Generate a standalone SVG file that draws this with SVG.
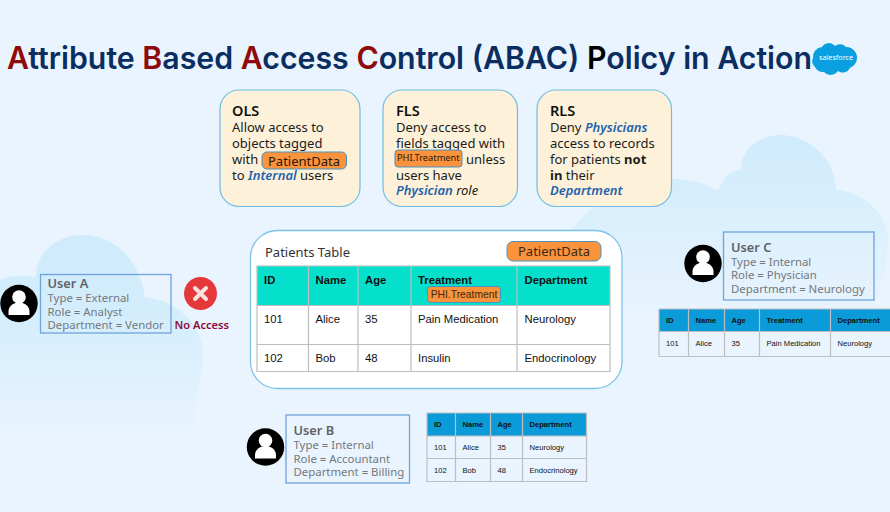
<svg xmlns="http://www.w3.org/2000/svg" width="890" height="512" viewBox="0 0 890 512">
<style>
text{font-family:"Noto Sans","Open Sans",sans-serif}
.title{font-family:"Inter","Liberation Sans",sans-serif;font-size:31px;font-weight:600;fill:#0b2e62}
.red{fill:#8f0a0a}
.card{fill:#fdf1d9;stroke:#6fbde6;stroke-width:1.2}
.b{font-size:13px;fill:#1c1c1c}
.h{font-size:14.5px;font-weight:600;fill:#111}
.bl{font-style:italic;font-weight:600;fill:#1f63ad}
.tag{fill:#fb923c;stroke:#4a93c0;stroke-width:1}
.u{fill:none;stroke:#6fa4dc;stroke-width:1.3}
.uh{font-size:12.8px;font-weight:600;fill:#5f6368}
.ut{font-size:11.4px;fill:#74787c}
.ar{font-family:"Liberation Sans",Arial,sans-serif;fill:#111}
.tl{stroke:#bcbec2;stroke-width:1.2;fill:none}
</style>
<defs>
<linearGradient id="fadeL" x1="0" y1="235" x2="0" y2="440" gradientUnits="userSpaceOnUse"><stop offset="0" stop-color="#cfebfc"/><stop offset=".35" stop-color="#d3edfc"/><stop offset="1" stop-color="#e9f4fe"/></linearGradient>
<linearGradient id="fadeR" x1="0" y1="135" x2="0" y2="320" gradientUnits="userSpaceOnUse"><stop offset="0" stop-color="#cfebfc"/><stop offset=".3" stop-color="#d6eefc"/><stop offset="1" stop-color="#e9f4fe"/></linearGradient>
<g id="person"><circle cx="0" cy="0" r="18.700" fill="#000"/><circle cx="0" cy="-6.500" r="6.800" fill="#fff"/><path d="M-10.500 11.500V8c0-5 4-7.500 7-8.500h7c3 1 7 3.500 7 8.500v3.500z" fill="#fff"/></g>
</defs>
<rect width="890" height="512" fill="#e9f4fe"/>
<g id="clouds">
<path fill="url(#fadeL)" d="M0 280C10 275 25 275 36 277C35 255 55 235 82 235C115 235 140 260 145 298C175 298 203 325 203 355C203 385 190 405 195 440H0Z"/>
<path fill="url(#fadeR)" d="M550 260C580 200 650 170 690 181C705 182 715 190 719 190C722 175 735 170 741 170C740 150 760 135 780 135C810 135 836 160 836 190C865 192 888 215 888 240C888 265 880 290 870 320H550Z"/>
</g>
<g id="title">
<text class="title" x="7" y="69" textLength="805" lengthAdjust="spacingAndGlyphs"><tspan class="red">A</tspan>ttribute <tspan class="red">B</tspan>ased <tspan class="red">A</tspan>ccess <tspan class="red">C</tspan>ontrol (ABAC) <tspan fill="#000">P</tspan>olicy in Action</text>
</g>
<g id="salesforce">
<path d="M822 47a8 8 0 0 1 13-1a8 8 0 0 1 11 1a10 10 0 0 1 5 1a12 12 0 0 1 6 11a12 12 0 0 1-7 9a8 8 0 0 1-12 3a9 9 0 0 1-14 1a9 9 0 0 1-9-5a8 8 0 0 1-2-9a10 10 0 0 1 9-11z" fill="#0a9fe0"/>
<text x="836" y="59.500" text-anchor="middle" font-size="7.200" fill="#fff">salesforce</text>
</g>
<g id="ols">
<rect class="card" x="220" y="90" width="140" height="116.500" rx="19"/>
<text class="h" x="232" y="116">OLS</text>
<text class="b" x="232" y="132">Allow access to</text>
<text class="b" x="232" y="148">objects tagged</text>
<text class="b" x="232" y="163.500">with</text>
<rect class="tag" x="262" y="152" width="84.500" height="17" rx="5"/>
<text x="304" y="166" text-anchor="middle" font-size="13" fill="#2a1a0a">PatientData</text>
<text class="b" x="232" y="179.500">to <tspan class="bl">Internal</tspan> users</text>
</g>
<g id="fls">
<rect class="card" x="383" y="90" width="134.500" height="116.500" rx="19"/>
<text class="h" x="396" y="116">FLS</text>
<text class="b" x="396" y="132">Deny access to</text>
<text class="b" x="396" y="148">fields tagged with</text>
<rect class="tag" x="395" y="150" width="67" height="17" rx="3"/>
<text x="397" y="160.500" font-size="9.300" fill="#2a1a0a">PHI.Treatment</text>
<text class="b" x="466" y="163.500">unless</text>
<text class="b" x="396" y="179.500">users have</text>
<text class="b" x="396" y="195"><tspan class="bl">Physician</tspan> <tspan font-style="italic">role</tspan></text>
</g>
<g id="rls">
<rect class="card" x="537" y="90" width="134.500" height="116.500" rx="19"/>
<text class="h" x="550" y="116">RLS</text>
<text class="b" x="550" y="132">Deny <tspan class="bl">Physicians</tspan></text>
<text class="b" x="550" y="148">access to records</text>
<text class="b" x="550" y="163.500">for patients <tspan font-weight="bold">not</tspan></text>
<text class="b" x="550" y="179.500"><tspan font-weight="bold">in</tspan> their</text>
<text class="bl" font-size="13" x="550" y="195">Department</text>
</g>
<g id="patients-table">
<rect x="250.500" y="230.500" width="371.500" height="158" rx="27" fill="#fff" stroke="#7cc3ec" stroke-width="1.300"/>
<text x="265" y="257" font-size="13" fill="#333">Patients Table</text>
<rect class="tag" x="507" y="241.500" width="94" height="19.500" rx="6"/>
<text x="554" y="256" text-anchor="middle" font-size="13" fill="#3a2a10">PatientData</text>
<rect x="257" y="266" width="353" height="39.500" fill="#05e0cc"/>
<path class="tl" d="M257 266H610V371.500H257ZM257 305.500H610M257 344.500H610M308.500 266V371.500M358 266V371.500M411 266V371.500M517 266V371.500"/>
<g font-size="11.300">
<g font-weight="bold"><text class="ar" x="264" y="284">ID</text><text class="ar" x="315.500" y="284">Name</text><text class="ar" x="365" y="284">Age</text><text class="ar" x="418" y="284">Treatment</text><text class="ar" x="524.500" y="284">Department</text></g>
<text class="ar" x="264" y="323">101</text><text class="ar" x="315.500" y="323">Alice</text><text class="ar" x="365" y="323">35</text><text class="ar" x="418" y="323">Pain Medication</text><text class="ar" x="524.500" y="323">Neurology</text>
<text class="ar" x="264" y="362">102</text><text class="ar" x="315.500" y="362">Bob</text><text class="ar" x="365" y="362">48</text><text class="ar" x="418" y="362">Insulin</text><text class="ar" x="524.500" y="362">Endocrinology</text>
</g>
<rect class="tag" x="427.500" y="286.500" width="73" height="16" rx="3"/>
<text x="464" y="298" text-anchor="middle" font-size="10.300" fill="#3a2a10" style="font-family:'Liberation Sans',sans-serif">PHI.Treatment</text>
</g>
<g id="user-a">
<use href="#person" x="19" y="303.500"/>
<rect class="u" x="40.500" y="274.500" width="130.500" height="58.500"/>
<text class="uh" x="47.500" y="288">User A</text>
<text class="ut" x="47.500" y="302">Type = External</text>
<text class="ut" x="47.500" y="315.500">Role = Analyst</text>
<text class="ut" x="47.500" y="329">Department = Vendor</text>
</g>
<g id="no-access">
<circle cx="200.500" cy="293.500" r="16.500" fill="#e5383b"/>
<path d="M195 288L206 299M206 288L195 299" stroke="#fde0e0" stroke-width="4" stroke-linecap="round"/>
<text x="174.500" y="329" font-size="11.100" font-weight="600" fill="#8e0b3c">No Access</text>
</g>
<g id="user-b">
<use href="#person" x="265.500" y="447"/>
<rect class="u" x="286" y="415" width="123.500" height="68"/>
<text class="uh" x="293.500" y="435">User B</text>
<text class="ut" x="293.500" y="449">Type = Internal</text>
<text class="ut" x="293.500" y="462.500">Role = Accountant</text>
<text class="ut" x="293.500" y="476">Department = Billing</text>
</g>
<g id="table-b">
<rect x="427" y="413" width="159.500" height="23" fill="#0a9bd8"/>
<path class="tl" d="M427 413H586.500V481.500H427ZM427 436H586.500M427 458.500H586.500M455.500 413V481.500M490.500 413V481.500M522.500 413V481.500"/>
<g font-size="7.600">
<g font-weight="bold"><text class="ar" x="434" y="427">ID</text><text class="ar" x="462.500" y="427">Name</text><text class="ar" x="497.500" y="427">Age</text><text class="ar" x="529.500" y="427">Department</text></g>
<text class="ar" x="434" y="450">101</text><text class="ar" x="462.500" y="450">Alice</text><text class="ar" x="497.500" y="450">35</text><text class="ar" x="529.500" y="450">Neurology</text>
<text class="ar" x="434" y="473">102</text><text class="ar" x="462.500" y="473">Bob</text><text class="ar" x="497.500" y="473">48</text><text class="ar" x="529.500" y="473">Endocrinology</text>
</g>
</g>
<g id="user-c">
<use href="#person" x="703" y="263.500"/>
<rect class="u" x="723.500" y="232" width="150.500" height="68"/>
<text class="uh" x="731" y="252">User C</text>
<text class="ut" x="731" y="265.500">Type = Internal</text>
<text class="ut" x="731" y="279">Role = Physician</text>
<text class="ut" x="731" y="292.500">Department = Neurology</text>
</g>
<g id="table-c">
<rect x="659" y="309" width="231" height="22.500" fill="#0a9bd8"/>
<path class="tl" d="M659 309H890M659 331.500H890M659 356.500H890M659 309V356.500M688.500 309V356.500M724.500 309V356.500M759.500 309V356.500M830.500 309V356.500"/>
<g font-size="7.600">
<g font-weight="bold"><text class="ar" x="666" y="323">ID</text><text class="ar" x="695.500" y="323">Name</text><text class="ar" x="731.500" y="323">Age</text><text class="ar" x="766.500" y="323">Treatment</text><text class="ar" x="837.500" y="323">Department</text></g>
<text class="ar" x="666" y="345.500">101</text><text class="ar" x="695.500" y="345.500">Alice</text><text class="ar" x="731.500" y="345.500">35</text><text class="ar" x="766.500" y="345.500">Pain Medication</text><text class="ar" x="837.500" y="345.500">Neurology</text>
</g>
</g>
</svg>
